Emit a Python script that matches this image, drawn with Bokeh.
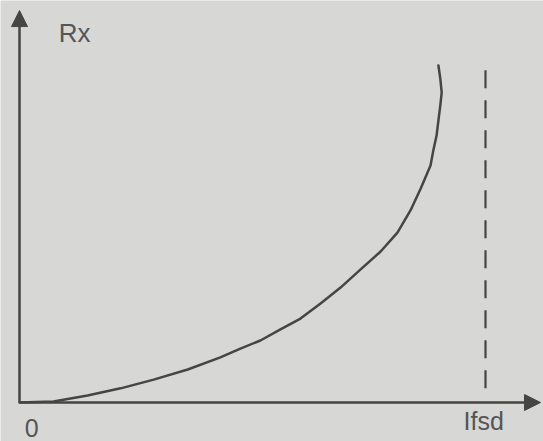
from bokeh.plotting import figure
from bokeh.models import Arrow, NormalHead, Range1d
from bokeh.core.properties import value
from bokeh.embed import file_html
from bokeh.resources import INLINE

# ---- data (current I as fraction of Ifsd, Rx in arbitrary units) ----
current = [0.0, 0.073, 0.146, 0.217, 0.288, 0.361, 0.431, 0.474, 0.517, 0.560,
           0.603, 0.646, 0.689, 0.732, 0.775, 0.811, 0.839, 0.861, 0.882,
           0.888, 0.895, 0.899, 0.903, 0.906, 0.903, 0.899]
rx = [0.0, 0.003, 0.021, 0.042, 0.068, 0.098, 0.134, 0.160, 0.184, 0.217,
      0.249, 0.294, 0.341, 0.395, 0.448, 0.504, 0.570, 0.635, 0.703,
      0.748, 0.792, 0.837, 0.881, 0.920, 0.961, 1.0]
ifsd = 1.0
dash_bottom, dash_top = 0.042, 0.994
axis_x_end = 1.118
axis_y_end = 1.163
label_text = ["Rx", "0", "Ifsd"]
label_x = [0.084, 0.011, 0.953]
label_y = [1.095, -0.077, -0.056]
label_size = ["26px", "25px", "25px"]

ink = "#454545"
bg = "#d7d8d5"

W, H = 543, 441
p = figure(width=W, height=H, output_backend="svg", toolbar_location=None,
           x_range=Range1d(-19 / 466, (W - 19) / 466),
           y_range=Range1d((402 - H) / 337, 402 / 337),
           min_border=0, min_border_left=0, min_border_right=0,
           min_border_top=0, min_border_bottom=0)
p.axis.visible = False
p.grid.visible = False
p.outline_line_color = None
p.background_fill_color = bg
p.border_fill_color = bg

# axes with arrow heads
p.add_layout(Arrow(end=NormalHead(size=16, fill_color=ink, line_color=ink),
                   x_start=0, y_start=0, x_end=0, y_end=axis_y_end,
                   line_color=ink, line_width=2.5))
p.add_layout(Arrow(end=NormalHead(size=16, fill_color=ink, line_color=ink),
                   x_start=0, y_start=0, x_end=axis_x_end, y_end=0,
                   line_color=ink, line_width=2.5))

# curve
p.line(current, rx, line_color=ink, line_width=2.5, line_join="round",
       line_cap="round")

# dashed full-scale line
p.line([ifsd, ifsd], [dash_bottom, dash_top], line_color=ink, line_width=2.2,
       line_dash="18 12")

# labels
for t, x, y, s in zip(label_text, label_x, label_y, label_size):
    p.text(x=[x], y=[y], text=[t], text_font=value("Liberation Sans"),
           text_font_size=s, text_color="#555555", text_align="left",
           text_baseline="alphabetic")

html = file_html(p, INLINE)
html = html.replace("<body>", '<body style="margin:0;overflow:hidden;background:%s">' % bg, 1)
open("out.html", "w").write(html)
